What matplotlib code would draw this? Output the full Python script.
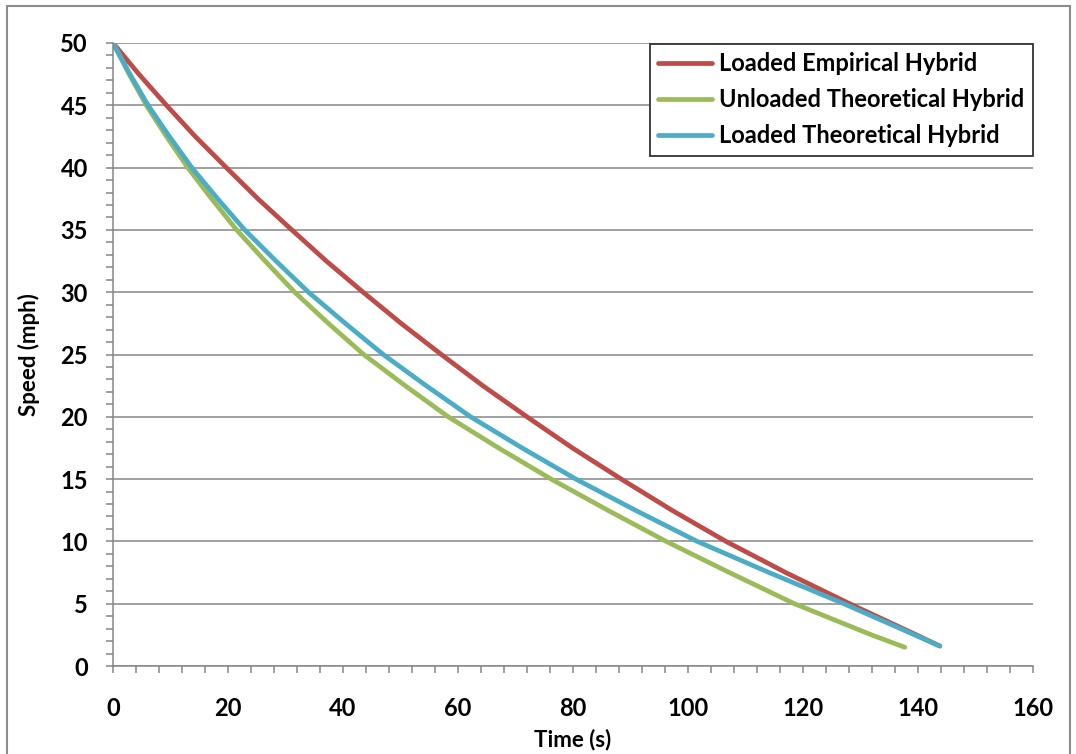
import matplotlib
matplotlib.use('Agg')
import matplotlib.pyplot as plt
from matplotlib.patches import Rectangle
from matplotlib.ticker import MultipleLocator

plt.rcParams['font.family'] = ['Lato', 'DejaVu Sans']
plt.rcParams['font.weight'] = 'bold'

# coast-down curves: time (s) at which each speed (mph) is reached
t_emp = [0, 4.5, 9.3, 14.3, 19.7, 25.2, 31.1, 37.1, 43.5, 50.1, 57.1, 64.3, 72.0,
         79.9, 88.4, 97.2, 106.6, 117.0, 128.1, 139.7, 143.8]
v_emp = [50, 47.5, 45, 42.5, 40, 37.5, 35, 32.5, 30, 27.5, 25, 22.5, 20,
         17.5, 15, 12.5, 10, 7.5, 5, 2.5, 1.6]

t_unl = [0, 2.8, 5.8, 9.3, 13.0, 17.15, 21.5, 26.45, 31.6, 37.45, 43.6, 50.8, 58.3,
         67.05, 76.2, 86.05, 96.2, 107.2, 118.5, 131.9, 137.7]
v_unl = [50, 47.5, 45, 42.5, 40, 37.5, 35, 32.5, 30, 27.5, 25, 22.5, 20,
         17.5, 15, 12.5, 10, 7.5, 5, 2.5, 1.5]

t_thr = [0, 2.95, 6.1, 9.8, 13.7, 18.2, 22.9, 28.35, 34.0, 40.4, 47.0, 54.45, 62.2,
         71.15, 80.5, 90.85, 101.6, 114.1, 127.1, 139.4, 143.8]
v_thr = [50, 47.5, 45, 42.5, 40, 37.5, 35, 32.5, 30, 27.5, 25, 22.5, 20,
         17.5, 15, 12.5, 10, 7.5, 5, 2.5, 1.6]

labels = ['Loaded Empirical Hybrid', 'Unloaded Theoretical Hybrid', 'Loaded Theoretical Hybrid']
colors = ['#BE4B48', '#9BBB59', '#4BACC6']

W, H = 1076, 754
fig = plt.figure(figsize=(W / 100, H / 100), dpi=100)
ax = fig.add_axes([113 / W, 1 - 666 / H, (1033 - 113) / W, (666 - 43) / H])

# outer chart frame
fig.patches.append(Rectangle((7 / W, -0.01), (1070 - 7) / W, 1 - 6 / H + 0.01,
                             transform=fig.transFigure, fill=False,
                             edgecolor='#8c8c8c', linewidth=1.5))

for t, v, lab, c in zip([t_emp, t_unl, t_thr], [v_emp, v_unl, v_thr], labels, colors):
    ax.plot(t, v, color=c, linewidth=3.4, label=lab,
            solid_capstyle='round', solid_joinstyle='round')

ax.set_xlim(0, 160)
ax.set_ylim(0, 50)
ax.xaxis.set_major_locator(MultipleLocator(20))
ax.xaxis.set_minor_locator(MultipleLocator(4))
ax.yaxis.set_major_locator(MultipleLocator(5))
ax.yaxis.set_minor_locator(MultipleLocator(1))
ax.grid(axis='y', which='major', color='#868686', linewidth=1.1)
ax.set_axisbelow(True)

for s in ['top', 'right']:
    ax.spines[s].set_visible(False)
for s in ['left', 'bottom']:
    ax.spines[s].set_color('#868686')
    ax.spines[s].set_linewidth(1.1)

ax.tick_params(axis='both', which='both', direction='out', color='#868686', width=1.1, length=5)
ax.tick_params(axis='y', which='major', pad=13, labelsize=17)
ax.tick_params(axis='x', which='major', pad=17, labelsize=17)

ax.set_xlabel('Time (s)', fontsize=16, fontweight='bold')
ax.set_ylabel('Speed (mph)', fontsize=16, fontweight='bold')
ax.xaxis.set_label_coords(0.5, -(729 - 666) / (666 - 43))
ax.yaxis.set_label_coords(-(113 - 40) / (1033 - 113), 0.5)

leg = ax.legend(loc='upper right', bbox_to_anchor=(1033 / W, 1 - 44 / H),
                bbox_transform=fig.transFigure, borderaxespad=0, fontsize=17,
                handlelength=2.3, handletextpad=0.3, labelspacing=0.55,
                borderpad=0.35, fancybox=False, framealpha=1)
leg.get_frame().set_edgecolor('#333333')
leg.get_frame().set_linewidth(1.3)
for line in leg.get_lines():
    line.set_linewidth(3.4)

fig.savefig('out.png', dpi=100)
